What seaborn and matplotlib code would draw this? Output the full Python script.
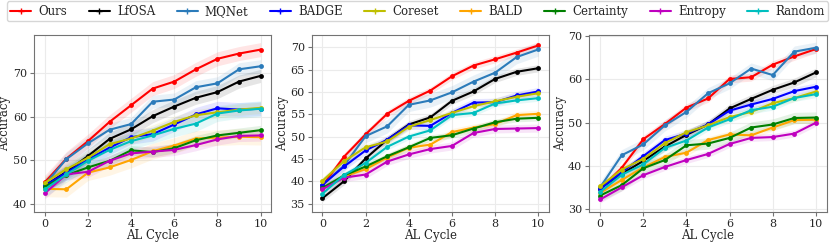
import numpy as np
import pandas as pd
import matplotlib
matplotlib.use('Agg')
import matplotlib.pyplot as plt
import seaborn as sns

methods = ['Ours', 'LfOSA', 'MQNet', 'BADGE', 'Coreset', 'BALD', 'Certainty', 'Entropy', 'Random']
colors = ['red', 'black', '#2b7bba', 'blue', '#bfbf00', 'orange', 'green', 'm', 'c']
cycles = list(range(11))

# panel 1
acc1 = {
    'Ours':      [45.0, 50.4, 54.4, 58.8, 62.6, 66.4, 68.0, 70.8, 73.2, 74.4, 75.3],
    'LfOSA':     [44.2, 47.4, 51.0, 54.9, 57.1, 60.1, 62.3, 64.3, 65.6, 68.0, 69.3],
    'MQNet':     [44.5, 50.3, 53.9, 57.0, 58.3, 63.4, 63.9, 66.7, 67.6, 70.8, 71.5],
    'BADGE':     [44.2, 47.2, 50.2, 52.9, 55.3, 56.0, 58.2, 60.5, 61.9, 61.6, 61.8],
    'Coreset':   [44.9, 48.0, 50.6, 53.7, 55.0, 56.8, 58.8, 60.3, 61.0, 61.6, 62.0],
    'BALD':      [43.5, 43.4, 47.2, 48.4, 50.1, 52.1, 53.4, 55.0, 55.2, 55.4, 55.3],
    'Certainty': [44.0, 46.6, 48.4, 49.9, 52.3, 51.9, 52.8, 54.6, 55.7, 56.3, 56.9],
    'Entropy':   [42.5, 46.8, 47.4, 49.9, 51.6, 52.0, 52.4, 53.5, 54.8, 55.6, 55.7],
    'Random':    [43.4, 46.8, 49.9, 52.4, 54.4, 55.7, 57.2, 58.4, 60.7, 61.4, 61.8],
}
std1 = [1.6, 1.5, 1.5, 1.6, 1.3, 1.8, 1.1, 1.3, 1.8]

# panel 2
acc2 = {
    'Ours':      [39.0, 45.5, 50.5, 55.1, 58.0, 60.3, 63.5, 65.9, 67.3, 68.8, 70.4],
    'LfOSA':     [36.2, 40.0, 45.1, 49.3, 52.7, 54.3, 58.0, 60.1, 62.9, 64.5, 65.3],
    'MQNet':     [39.2, 43.5, 50.1, 52.3, 57.1, 58.1, 59.9, 62.3, 64.3, 67.8, 69.5],
    'BADGE':     [39.2, 43.3, 46.9, 49.3, 52.5, 52.4, 55.3, 57.6, 57.7, 59.2, 60.1],
    'Coreset':   [40.1, 44.5, 47.6, 48.9, 52.2, 53.7, 55.3, 56.8, 57.9, 58.9, 59.7],
    'BALD':      [38.3, 41.1, 42.7, 45.3, 47.5, 48.2, 51.0, 52.0, 52.8, 54.8, 55.1],
    'Certainty': [38.5, 41.3, 43.3, 45.6, 47.6, 49.7, 50.3, 51.8, 53.2, 54.0, 54.2],
    'Entropy':   [38.2, 40.8, 41.5, 44.4, 46.0, 47.2, 47.9, 50.8, 51.7, 51.8, 51.9],
    'Random':    [37.2, 41.4, 44.1, 47.7, 50.0, 51.4, 54.8, 55.3, 57.4, 58.1, 58.6],
}
std2 = [0.8, 0.8, 1.5, 0.9, 0.8, 0.8, 0.7, 0.9, 0.7]

# panel 3
acc3 = {
    'Ours':      [34.7, 39.6, 46.2, 49.7, 53.5, 55.6, 60.1, 60.5, 63.4, 65.3, 67.0],
    'LfOSA':     [34.9, 38.2, 41.2, 44.5, 47.2, 49.6, 53.3, 55.5, 57.6, 59.3, 61.6],
    'MQNet':     [35.1, 42.5, 45.0, 49.4, 52.5, 56.8, 59.1, 62.5, 61.0, 66.4, 67.3],
    'BADGE':     [34.7, 38.6, 42.3, 46.0, 47.5, 49.6, 52.8, 54.2, 55.5, 57.3, 58.3],
    'Coreset':   [35.3, 39.2, 41.7, 45.3, 47.8, 49.4, 51.3, 52.5, 54.5, 55.7, 57.2],
    'BALD':      [33.8, 36.8, 39.7, 42.1, 43.1, 46.0, 47.3, 47.1, 48.9, 50.6, 50.7],
    'Certainty': [33.2, 35.6, 39.5, 41.4, 44.8, 45.2, 46.5, 48.9, 49.6, 51.1, 51.2],
    'Entropy':   [32.3, 35.1, 37.9, 39.8, 41.4, 42.8, 45.1, 46.5, 46.7, 47.5, 50.0],
    'Random':    [34.0, 38.0, 40.4, 44.2, 45.9, 48.9, 50.8, 52.9, 53.7, 55.7, 56.6],
}
std3 = [0.9, 1.0, 1.3, 0.9, 0.8, 0.8, 1.3, 0.8, 0.8]

sns.set_style('whitegrid')
plt.rcParams['font.family'] = ['DejaVu Serif']
plt.rcParams['axes.edgecolor'] = '0.45'
plt.rcParams['grid.color'] = '0.92'

fig, axes = plt.subplots(1, 3, figsize=(8.3, 2.46), dpi=100)
fig.subplots_adjust(left=0.041, right=0.996, bottom=0.138, top=0.857, wspace=0.17)

palette = dict(zip(methods, colors))
panels = [(acc1, std1, (38.2, 78.6), [40, 50, 60, 70]),
          (acc2, std2, (33.1, 72.7), [35, 40, 45, 50, 55, 60, 65, 70]),
          (acc3, std3, (29.4, 70.2), [30, 40, 50, 60, 70])]

for ax, (acc, std, ylim, yticks) in zip(axes, panels):
    df = pd.DataFrame([(m, c, v) for m in methods for c, v in zip(cycles, acc[m])],
                      columns=['method', 'cycle', 'acc'])
    for m, s in zip(methods, std):
        y = np.array(acc[m])
        ax.fill_between(cycles, y - s, y + s, color=palette[m], alpha=0.1, linewidth=0)
    sns.lineplot(data=df, x='cycle', y='acc', hue='method', palette=palette, hue_order=methods,
                 marker='o', markersize=3.5, markeredgewidth=0, linewidth=1.5, legend=False, ax=ax)
    ax.set_ylim(ylim)
    ax.set_yticks(yticks)
    ax.set_xticks([0, 2, 4, 6, 8, 10])
    ax.set_xlabel('AL Cycle', fontsize=8.5, labelpad=0)
    ax.set_ylabel('Accuracy', fontsize=8.5, labelpad=1)
    ax.tick_params(labelsize=8, length=3, width=0.8, pad=2, left=True, bottom=True, color='0.45')

handles = [plt.Line2D([], [], color=c, marker='+', markersize=4, linewidth=1.5) for c in colors]
fig.legend(handles, methods, loc='upper left', bbox_to_anchor=(0.008, 0.87, 0.99, 0.125),
           mode='expand', ncol=9, fontsize=8.5, frameon=True, handlelength=1.8,
           borderaxespad=0, borderpad=0.3, columnspacing=0.8, handletextpad=0.6)

fig.savefig('out.png', dpi=100)
